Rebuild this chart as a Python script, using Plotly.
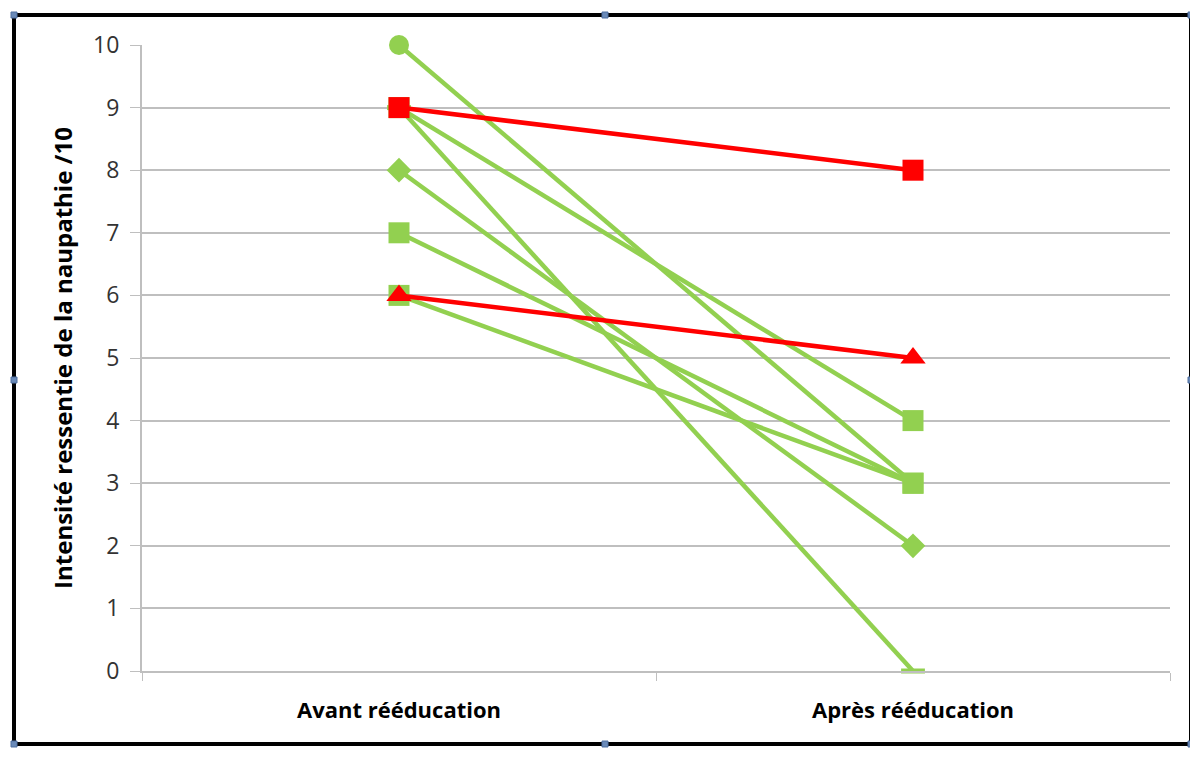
import plotly.graph_objects as go

categories = ["Avant rééducation", "Après rééducation"]

green_before = [10, 9, 9, 8, 7, 6]
green_after = [3, 4, 0, 2, 3, 3]
green_symbols = ["circle", "square", "line-ew", "diamond", "square", "square"]

red_before = [9, 6]
red_after = [8, 5]
red_symbols = ["square", "triangle-up"]

y_ticks = list(range(0, 11))

GREEN = "#92D050"
RED = "#FF0000"

fig = go.Figure()

def add_series(b, a, sym, color):
    if sym == "line-ew":
        marker = dict(symbol=sym, size=17, color=color, line=dict(color=color, width=5))
    else:
        size = {"circle": 20, "square": 21, "diamond": 19, "triangle-up": 22}[sym]
        marker = dict(symbol=sym, size=size, color=color, line=dict(width=0))
    fig.add_trace(go.Scatter(
        x=categories, y=[b, a], mode="lines+markers",
        line=dict(color=color, width=4.5), marker=marker, cliponaxis=False,
        showlegend=False, hoverinfo="skip"))

for b, a, s in zip(green_before, green_after, green_symbols):
    add_series(b, a, s, GREEN)
for b, a, s in zip(red_before, red_after, red_symbols):
    add_series(b, a, s, RED)

OFF = 8  # page body margin
W, H = 1198 - OFF, 760 - OFF
L, T = 142 - OFF, 45 - OFF
R = W - (1170 - OFF)
B = H - (671 - OFF)
pw, ph = W - L - R, H - T - B

def px(x):
    return (x - OFF - L) / pw

def py(y):
    return (H - B - (y - OFF)) / ph

shapes = [dict(type="rect", xref="paper", yref="paper",
               x0=px(14), x1=px(1191), y0=py(15), y1=py(744),
               line=dict(color="black", width=4), fillcolor="rgba(0,0,0,0)")]
for hx, hy in [(14, 15), (605, 15), (1191, 15), (14, 380), (1191, 380),
               (14, 744), (605, 744), (1191, 744)]:
    shapes.append(dict(type="rect", xref="paper", yref="paper",
                       x0=px(hx - 3), x1=px(hx + 3), y0=py(hy - 3), y1=py(hy + 3),
                       line=dict(color="#4F6F9F", width=1), fillcolor="#6A8AB8"))

FONT = "Open Sans, sans-serif"

fig.update_layout(
    width=W, height=H,
    margin=dict(l=L, r=R, t=T, b=B),
    paper_bgcolor="white", plot_bgcolor="white",
    font=dict(family=FONT, color="#404040"),
    shapes=shapes,
    xaxis=dict(
        type="category", range=[-0.5, 1.5],
        showgrid=False, showline=True, linecolor="#BFBFBF", linewidth=2,
        ticks="outside", ticklen=8, tickcolor="#BFBFBF", tickwidth=1,
        tickson="boundaries",
        tickfont=dict(size=22, color="#000000", family=FONT, weight="bold"),
        ticklabelstandoff=19,
    ),
    yaxis=dict(
        range=[0, 10], tickvals=y_ticks,
        showgrid=True, gridcolor="#BFBFBF", gridwidth=2,
        showline=True, linecolor="#BFBFBF", linewidth=2,
        ticks="outside", ticklen=10, tickcolor="#BFBFBF",
        tickfont=dict(size=23, color="#333333"),
        ticklabelstandoff=6,
        zeroline=False,
        title=dict(text="<b>Intensité ressentie de la naupathie /10</b>",
                   font=dict(size=24, color="#000000"), standoff=14),
    ),
)

fig.write_html("out.html")
